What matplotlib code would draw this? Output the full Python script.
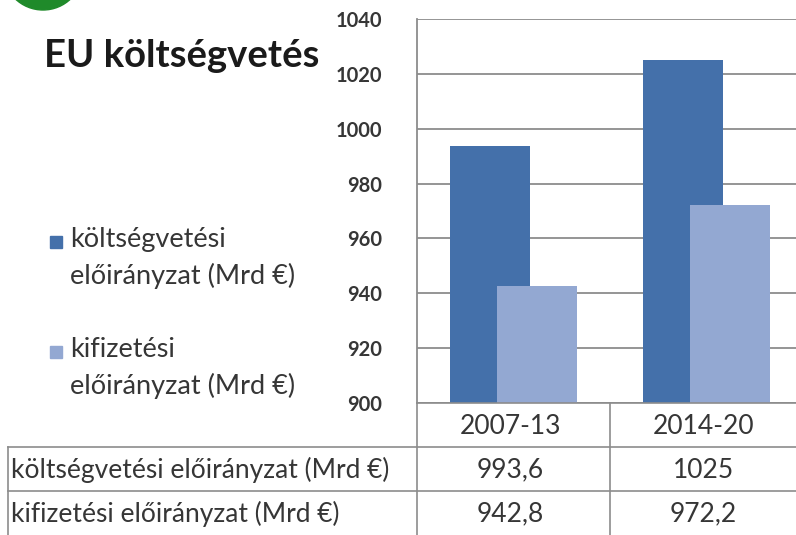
import matplotlib.pyplot as plt
from matplotlib.patches import Rectangle, Circle
from matplotlib.lines import Line2D

plt.rcParams['font.family'] = ['Lato', 'DejaVu Sans']

periods = ['2007-13', '2014-20']
kotseg = [993.6, 1025]
kifiz = [942.8, 972.2]
series_names = ['költségvetési előirányzat (Mrd €)', 'kifizetési előirányzat (Mrd €)']
legend_names = ['költségvetési\nelőirányzat (Mrd €)', 'kifizetési\nelőirányzat (Mrd €)']
yticks = [900, 920, 940, 960, 980, 1000, 1020, 1040]

dark = '#4470AA'
light = '#93A8D2'
txt = '#363636'
linec = '#8c8c8c'

W, H = 796, 535
fig = plt.figure(figsize=(W / 100, H / 100), dpi=100)

# main bar axes (right side is cut off like in the picture)
x0, x1 = 417, 803
ytop, ybot = 19, 403
ax = fig.add_axes([x0 / W, 1 - ybot / H, (x1 - x0) / W, (ybot - ytop) / H])
xs = [i + 0.5 for i in range(len(periods))]
bw = 0.415
off = 0.124
ax.bar([x - off for x in xs], kotseg, width=bw, color=dark, zorder=2)
ax.bar([x + off for x in xs], kifiz, width=bw, color=light, zorder=3)
ax.set_xlim(0, len(periods))
ax.set_ylim(900, 1040)
ax.set_yticks(yticks)
ax.set_yticklabels([str(v) for v in yticks], fontsize=14.5, fontweight='bold', color=txt)
ax.set_xticks([])
ax.tick_params(axis='y', length=0, pad=25)
ax.grid(axis='y', color=linec, linewidth=1.3, zorder=0)
for s in ['top', 'right', 'bottom']:
    ax.spines[s].set_visible(False)
ax.spines['left'].set_color(linec)
ax.spines['left'].set_linewidth(1.3)

# overlay in pixel coords for table, legend, title
ov = fig.add_axes([0, 0, 1, 1], zorder=5)
ov.set_xlim(0, W)
ov.set_ylim(H, 0)
ov.axis('off')

ov.add_patch(Circle((43, -30), 40, color='#1f8a2a'))
ov.text(44, 56, 'EU költségvetés', fontsize=27.5, fontweight='bold', color='#1a1a1a', va='center')

# legend
leg_y = [242, 352]
for c, name, y in zip([dark, light], legend_names, leg_y):
    ov.add_patch(Rectangle((50, y - 6), 12, 12, color=c))
    ov.text(70, y - 15, name, fontsize=19.5, color=txt, va='top', linespacing=1.5)

# table
col_x = [417, 610, 803]
row_y = [403, 447, 491, 535]
lw = 1.2
ov.add_line(Line2D([417, W], [403, 403], color=linec, lw=lw))
ov.add_line(Line2D([8, W], [447, 447], color=linec, lw=lw))
ov.add_line(Line2D([8, W], [491, 491], color=linec, lw=lw))
ov.add_line(Line2D([8, 8], [447, 535], color=linec, lw=lw))
for cx in col_x[:2]:
    ov.add_line(Line2D([cx, cx], [403, 535], color=linec, lw=lw))

for i, p in enumerate(periods):
    cx = (col_x[i] + col_x[i + 1]) / 2 - 3
    ov.text(cx, (row_y[0] + row_y[1]) / 2 + 1, p, fontsize=19, color=txt, ha='center', va='center')
    for r, vals in enumerate([kotseg, kifiz]):
        s = f'{vals[i]:g}'.replace('.', ',')
        ov.text(cx, (row_y[r + 1] + row_y[r + 2]) / 2 + 1, s, fontsize=19, color=txt,
                ha='center', va='center')
for r, name in enumerate(series_names):
    ov.text(11, (row_y[r + 1] + row_y[r + 2]) / 2 + 1, name, fontsize=19, color=txt,
            ha='left', va='center')

fig.savefig('out.png', dpi=100)
